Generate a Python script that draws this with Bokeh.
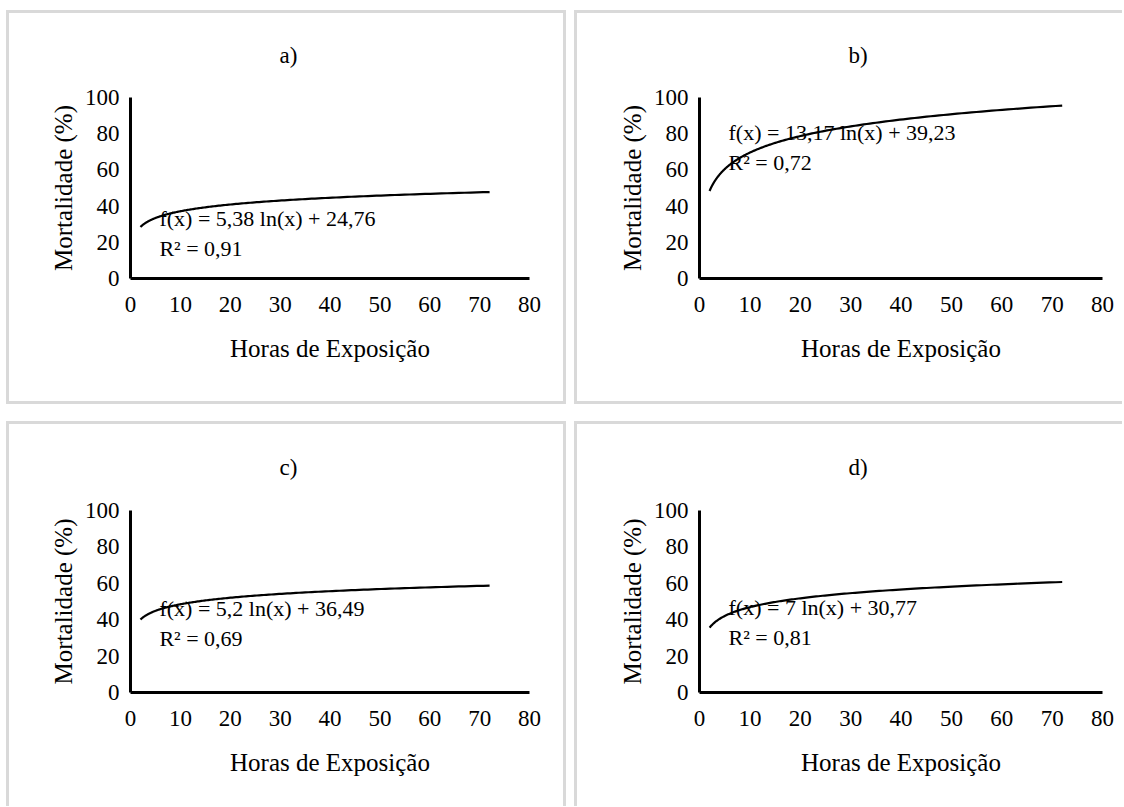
import numpy as np
from bokeh.plotting import figure
from bokeh.layouts import column, row
from bokeh.models import Spacer, FixedTicker
from bokeh.core.properties import value
from bokeh.embed import file_html
from bokeh.resources import INLINE

# ---- data ----
panel_labels = ["a)", "b)", "c)", "d)"]
slopes = [5.38, 13.17, 5.2, 7.0]          # trendline coefficients shown on the chart
intercepts = [24.76, 39.23, 36.49, 30.77]
equations = ["f(x) = 5,38 ln(x) + 24,76", "f(x) = 13,17 ln(x) + 39,23",
             "f(x) = 5,2 ln(x) + 36,49", "f(x) = 7 ln(x) + 30,77"]
r2_texts = ["R² = 0,91", "R² = 0,72", "R² = 0,69", "R² = 0,81"]
hour_start, hour_end = 2, 72
x_ticks = [0, 10, 20, 30, 40, 50, 60, 70, 80]
y_ticks = [0, 20, 40, 60, 80, 100]
x_title = "Horas de Exposição"
y_title = "Mortalidade (%)"

# ---- layout / style ----
FONT = "Liberation Serif"
FS_TICK = "23px"
FS_AXIS = "25px"
FS_TITLE = "23px"
FS_EQ = "22px"
GRAY = "#d9d9d9"
SHADOW = {"left": f"inset 3px 0 0 0 {GRAY}", "right": f"inset -3px 0 0 0 {GRAY}",
          "top": f"inset 0 3px 0 0 {GRAY}", "bottom": f"inset 0 -3px 0 0 {GRAY}"}
cfg = [
    dict(w=560, h=394, l=124, r=37, t=87, b=126, st=55, ex=5.8, ey=33.2, ry=16.6,
         sides=("left", "top", "right", "bottom")),
    dict(w=548, h=394, l=125, r=20, t=87, b=126, st=55, ex=5.76, ey=80.9, ry=64.3,
         sides=("left", "top", "bottom")),
    dict(w=560, h=385, l=124, r=37, t=89, b=114, st=57, ex=5.8, ey=46.2, ry=29.7,
         sides=("left", "top", "right")),
    dict(w=548, h=385, l=125, r=20, t=89, b=114, st=57, ex=5.76, ey=46.7, ry=30.2,
         sides=("left", "top")),
]


def make_panel(i):
    c = cfg[i]
    p = figure(width=c["w"], height=c["h"], x_range=(0, 80), y_range=(0, 100),
               output_backend="svg", toolbar_location=None,
               min_border_left=c["l"], min_border_right=c["r"],
               min_border_top=c["t"], min_border_bottom=c["b"])
    p.styles = {"box-shadow": ", ".join(SHADOW[s] for s in c["sides"])}
    p.border_fill_color = None
    p.background_fill_color = None
    p.outline_line_color = None
    p.xgrid.visible = False
    p.ygrid.visible = False

    p.title.text = panel_labels[i]
    p.title.align = "left"
    p.title.vertical_align = "top"
    p.title.offset = 149
    p.title.standoff = c["st"]
    p.title.text_font = FONT
    p.title.text_font_size = FS_TITLE
    p.title.text_font_style = "normal"
    p.title.text_color = "black"

    for ax, ticks in ((p.xaxis[0], x_ticks), (p.yaxis[0], y_ticks)):
        ax.ticker = FixedTicker(ticks=ticks)
        ax.axis_line_color = "black"
        ax.axis_line_width = 3
        ax.major_tick_line_color = None
        ax.minor_tick_line_color = None
        ax.major_label_text_font = FONT
        ax.major_label_text_font_size = FS_TICK
        ax.major_label_text_color = "black"
        ax.axis_label_text_font = FONT
        ax.axis_label_text_font_size = FS_AXIS
        ax.axis_label_text_font_style = "normal"
        ax.axis_label_text_color = "black"
    p.xaxis.axis_label = x_title
    p.yaxis.axis_label = y_title
    p.xaxis.major_label_standoff = 12
    p.xaxis.axis_label_standoff = 20
    p.yaxis.major_label_standoff = 5
    p.yaxis.axis_label_standoff = 5

    # logarithmic trendline as printed on the chart
    xs = np.geomspace(hour_start, hour_end, 200)
    ys = slopes[i] * np.log(xs) + intercepts[i]
    p.line(xs, ys, line_color="black", line_width=2.2)

    p.text(x=[c["ex"], c["ex"]], y=[c["ey"], c["ry"]], text=[equations[i], r2_texts[i]],
           text_font=value(FONT), text_font_size=FS_EQ, text_color="black",
           text_align="left", text_baseline="middle")
    return p


pa, pb, pc, pd = (make_panel(i) for i in range(4))
layout = column(
    Spacer(height=10),
    row(Spacer(width=6), pa, Spacer(width=8), pb),
    Spacer(height=17),
    row(Spacer(width=6), pc, Spacer(width=8), pd),
)

open("out.html", "w").write(file_html(layout, INLINE))
